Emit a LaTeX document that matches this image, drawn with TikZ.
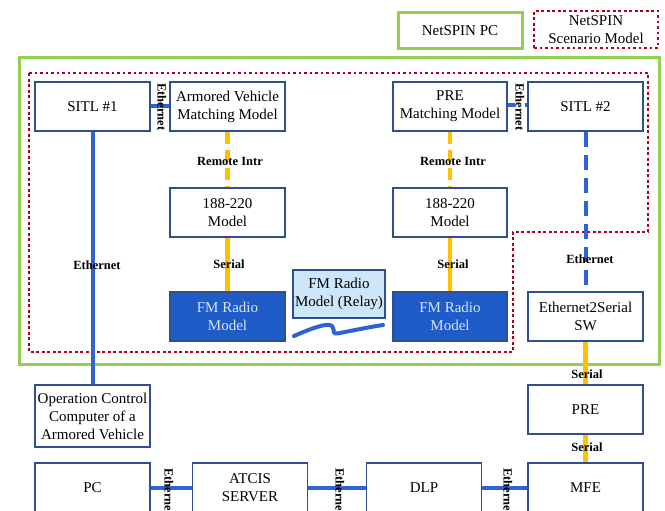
\documentclass[tikz,border=0pt]{standalone}
\usepackage{fontspec}
\setmainfont{Liberation Serif}
\definecolor{boxblue}{HTML}{2F4F8F}
\definecolor{linkblue}{HTML}{2F62D2}
\definecolor{fmblue}{HTML}{1F5CC8}
\definecolor{fmtext}{HTML}{D6E4FF}
\definecolor{relayfill}{HTML}{CDE6FA}
\definecolor{linkorange}{HTML}{FFC000}
\definecolor{framegreen}{HTML}{92D050}
\definecolor{dotred}{HTML}{B0001A}
\tikzset{
  box/.style={draw=boxblue,line width=1.4pt,fill=white,minimum width=115pt,minimum height=49pt,
    align=center,inner sep=1pt,font=\fontsize{15}{18}\selectfont},
  fmbox/.style={box,fill=fmblue,text=fmtext},
  relaybox/.style={box,fill=relayfill,minimum width=92pt,minimum height=48pt},
  blink/.style={linkblue,line width=4pt},
  bdash/.style={linkblue,line width=4pt,dash pattern=on 15pt off 8pt},
  olink/.style={linkorange,line width=4.5pt},
  odash/.style={linkorange,line width=4.5pt,dash pattern=on 12pt off 6pt},
  lbl/.style={font=\fontsize{12.5}{14}\selectfont\bfseries,inner sep=0.5pt},
  rlbl/.style={lbl,rotate=-90},
  reddot/.style={dotred,line width=2.6pt,dash pattern=on 2.6pt off 2.9pt},
}
\begin{document}
\begin{tikzpicture}[x=1pt,y=-1pt]
\useasboundingbox (0,0) rectangle (665,511);
\clip (0,0) rectangle (665,511);
% legend
\node[draw=framegreen,line width=3pt,minimum width=124pt,minimum height=36pt,font=\fontsize{15}{18}\selectfont] (legpc) at (460,30.5) {NetSPIN PC};
\node[reddot,draw,text=black,minimum width=124pt,minimum height=37pt,align=center,font=\fontsize{15}{18}\selectfont] (legsc) at (596,29.5) {NetSPIN\\Scenario Model};
% frames
\draw[framegreen,line width=3pt] (19,58) rectangle (659,364);
\draw[reddot] (29,73) -- (648,73) -- (648,232) -- (513,232) -- (513,352) -- (29,352) -- cycle;
% nodes
\node[box] (sitl1) at (92.5,106.5) {SITL \#1};
\node[box] (avmm) at (227.5,106.5) {Armored Vehicle\\Matching Model};
\node[box,minimum width=114pt] (prem) at (450,106.5) {PRE\\Matching Model};
\node[box] (sitl2) at (585.5,106.5) {SITL \#2};
\node[box] (m1) at (227.5,212.5) {188-220\\Model};
\node[box,minimum width=114pt] (m2) at (450,212.5) {188-220\\Model};
\node[fmbox] (fm1) at (227.5,316.5) {FM Radio\\Model};
\node[fmbox,minimum width=114pt] (fm2) at (450,316.5) {FM Radio\\Model};
\node[relaybox] (relay) at (339,294) {FM Radio\\Model (Relay)};
\node[box] (e2s) at (585.5,316.5) {Ethernet2Serial\\SW};
\node[box,minimum height=62pt] (occ) at (92.5,416) {Operation Control\\Computer of a\\Armored Vehicle};
\node[box] (pre) at (585.5,409.5) {PRE};
\node[box] (pc) at (92.5,487.5) {PC};
\node[box] (atcis) at (250,487.5) {ATCIS\\SERVER};
\node[box] (dlp) at (424,487.5) {DLP};
\node[box] (mfe) at (585.5,487.5) {MFE};
% links
\draw[blink] (sitl1.east |- 0,106) -- (avmm.west |- 0,106);
\draw[blink] (prem.east |- 0,105) -- (sitl2.west |- 0,105);
\draw[odash] (avmm.south) -- (m1.north);
\draw[odash] (prem.south) -- (m2.north);
\draw[olink] (m1.south) -- (fm1.north);
\draw[olink] (m2.south) -- (fm2.north);
\draw[blink] (sitl1.south) -- (occ.north);
\draw[bdash] (sitl2.south) -- (e2s.north);
\draw[olink] (e2s.south) -- (pre.north);
\draw[olink] (pre.south) -- (mfe.north);
\draw[blink] (pc.east |- 0,488) -- (atcis.west |- 0,488);
\draw[blink] (atcis.east |- 0,488) -- (dlp.west |- 0,488);
\draw[blink] (dlp.east |- 0,488) -- (mfe.west |- 0,488);
% radio link squiggle
\coordinate (wa) at (294,336);
\coordinate (wb) at (383,325);
\draw[linkblue,line width=4pt,line cap=round] (wa) .. controls (310,329) and (328,322) .. (332,326)
  .. controls (336,331) and (330,335) .. (340,333) .. controls (355,330) and (370,327) .. (wb);
% labels
\node[rlbl] (e1) at (162,107) {Ethernet};
\node[rlbl,fill=white] (e2) at (520,107) {Ethernet};
\node[lbl] (ri1) at (230,161) {Remote Intr};
\node[lbl] (ri2) at (453,161) {Remote Intr};
\node[lbl] (s1) at (229,264) {Serial};
\node[lbl] (s2) at (453,264) {Serial};
\node[lbl] (e3) at (97,265) {Ethernet};
\node[lbl] (e4) at (590,259) {Ethernet};
\node[lbl] (s3) at (587,374) {Serial};
\node[lbl] (s4) at (587,447) {Serial};
\node[rlbl] (e5) at (169,492) {Ethernet};
\node[rlbl] (e6) at (340,492) {Ethernet};
\node[rlbl] (e7) at (508,492) {Ethernet};
\end{tikzpicture}
\end{document}
